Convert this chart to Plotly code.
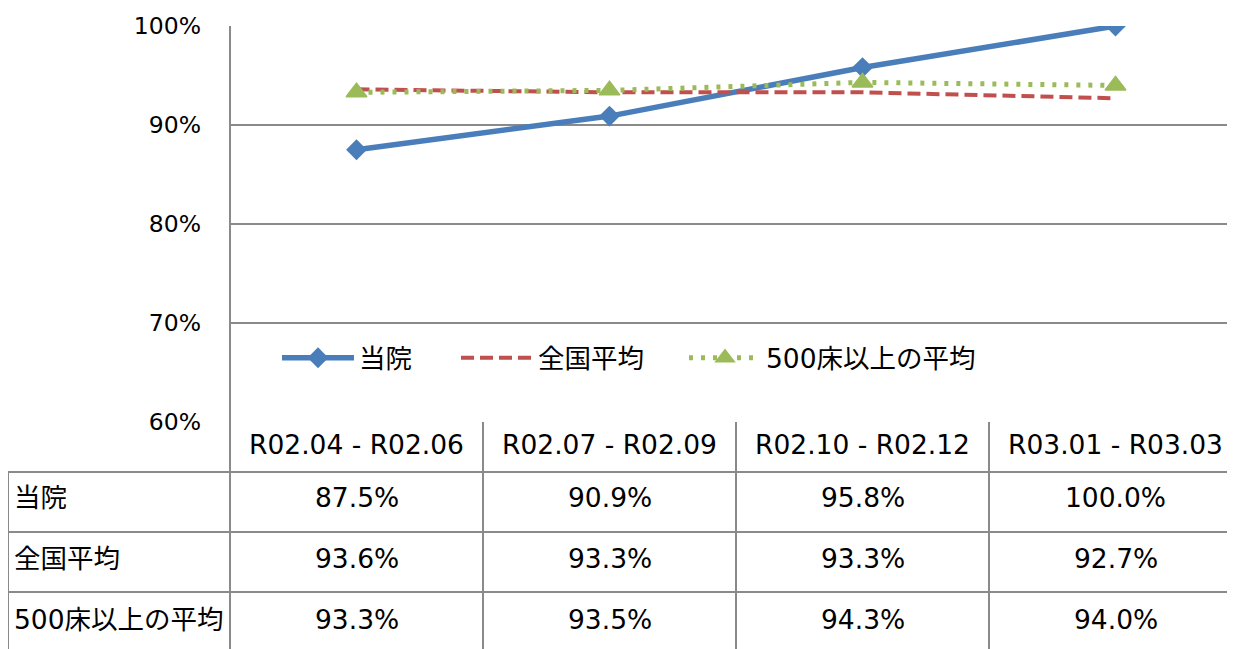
import plotly.graph_objects as go

categories = ["R02.04 - R02.06", "R02.07 - R02.09", "R02.10 - R02.12", "R03.01 - R03.03"]
series_names = ["当院", "全国平均", "500床以上の平均"]
toin = [87.5, 90.9, 95.8, 100.0]
zenkoku = [93.6, 93.3, 93.3, 92.7]
over500 = [93.3, 93.5, 94.3, 94.0]
y_ticks = [60, 70, 80, 90, 100]

OFF = 8  # page body margin
W, H = 1235 - OFF, 649 - OFF
L, T, B = 230 - OFF, 26 - OFF, 422 - OFF  # plot area pixels
PW = W - L
PH = B - T
FONT = "DejaVu Sans, Noto Sans CJK JP, sans-serif"
GRID = "#8a8a8a"

def px(x):
    return (x - OFF - L) / PW

def py(y):
    return (B - (y - OFF)) / PH

fig = go.Figure()
fig.add_trace(go.Scatter(
    x=categories, y=[v / 100 for v in toin], name=series_names[0], mode="lines+markers", legend="legend",
    showlegend=True,
    line=dict(color="#4a7ebb", width=5.5), marker=dict(symbol="diamond", size=16, color="#4a7ebb")))
fig.add_trace(go.Scatter(
    x=categories, y=[v / 100 for v in zenkoku], name=series_names[1], mode="lines", legend="legend2",
    showlegend=True,
    line=dict(color="#c0504d", width=4, dash="13px,6px")))
fig.add_trace(go.Scatter(
    x=categories, y=[v / 100 for v in over500], name=series_names[2], mode="lines+markers", legend="legend3",
    showlegend=True,
    line=dict(color="#9bbb59", width=5, dash="4px,8px"),
    marker=dict(symbol="triangle-up", size=18, color="#9bbb59", line=dict(color="#9bbb59", width=1.5))))

# table geometry (reference pixels)
col_edges = [230 + i * 253 for i in range(5)]
row_edges = [422, 472, 532, 592, 652]
shapes = []
line_style = dict(color=GRID, width=2)
shapes.append(dict(type="line", xref="paper", yref="paper", x0=px(230), x1=px(230), y0=py(26), y1=py(652),
                   line=line_style, layer="above"))
for xe in col_edges[1:4]:
    shapes.append(dict(type="line", xref="paper", yref="paper", x0=px(xe), x1=px(xe), y0=py(422), y1=py(652),
                       line=line_style))
shapes.append(dict(type="line", xref="paper", yref="paper", x0=px(8), x1=px(8), y0=py(472), y1=py(652),
                   line=line_style))
for ye in row_edges[1:4]:
    shapes.append(dict(type="line", xref="paper", yref="paper", x0=px(8), x1=1, y0=py(ye), y1=py(ye),
                       line=line_style))

annotations = []
TF = dict(family=FONT, size=26.5, color="#000000")
for i, c in enumerate(categories):
    cx = (col_edges[i] + col_edges[i + 1]) / 2
    annotations.append(dict(text=c, xref="paper", yref="paper", x=px(cx), y=py(444), showarrow=False,
                            xanchor="center", yanchor="middle", font=TF))
rows = [toin, zenkoku, over500]
row_centers = [497, 558, 619]
for r, (name, vals) in enumerate(zip(series_names, rows)):
    annotations.append(dict(text=name, xref="paper", yref="paper", x=px(12), y=py(row_centers[r]),
                            showarrow=False, xanchor="left", yanchor="middle", font=TF))
    for i, v in enumerate(vals):
        cx = (col_edges[i] + col_edges[i + 1]) / 2
        annotations.append(dict(text=f"{v:.1f}%", xref="paper", yref="paper", x=px(cx), y=py(row_centers[r]),
                                showarrow=False, xanchor="center", yanchor="middle", font=TF))

def legend_at(xpix):
    return dict(orientation="h", x=px(xpix), y=py(358), xanchor="left", yanchor="middle", visible=True,
                font=dict(family=FONT, size=26.5, color="#000000"), itemwidth=72, bgcolor="rgba(0,0,0,0)")

fig.update_layout(
    width=W, height=H,
    showlegend=True,
    margin=dict(l=L, r=0, t=T, b=H - B, pad=0),
    paper_bgcolor="white", plot_bgcolor="white",
    font=dict(family=FONT, size=23, color="#000000"),
    xaxis=dict(type="category", range=[-0.5, -0.5 + 4 * PW / (4 * 253)], showticklabels=False,
               showgrid=False, zeroline=False, showline=False),
    yaxis=dict(range=[0.6, 1.0], tickvals=[v / 100 for v in y_ticks], ticktext=[f"{v}%" for v in y_ticks],
               showgrid=True, gridcolor=GRID, gridwidth=2, zeroline=False, showline=False,
               ticks="", ticklabelstandoff=28, tickfont=dict(size=23.5)),
    legend=legend_at(277), legend2=legend_at(456), legend3=legend_at(684),
    shapes=shapes, annotations=annotations,
)
fig.write_html("out.html")
